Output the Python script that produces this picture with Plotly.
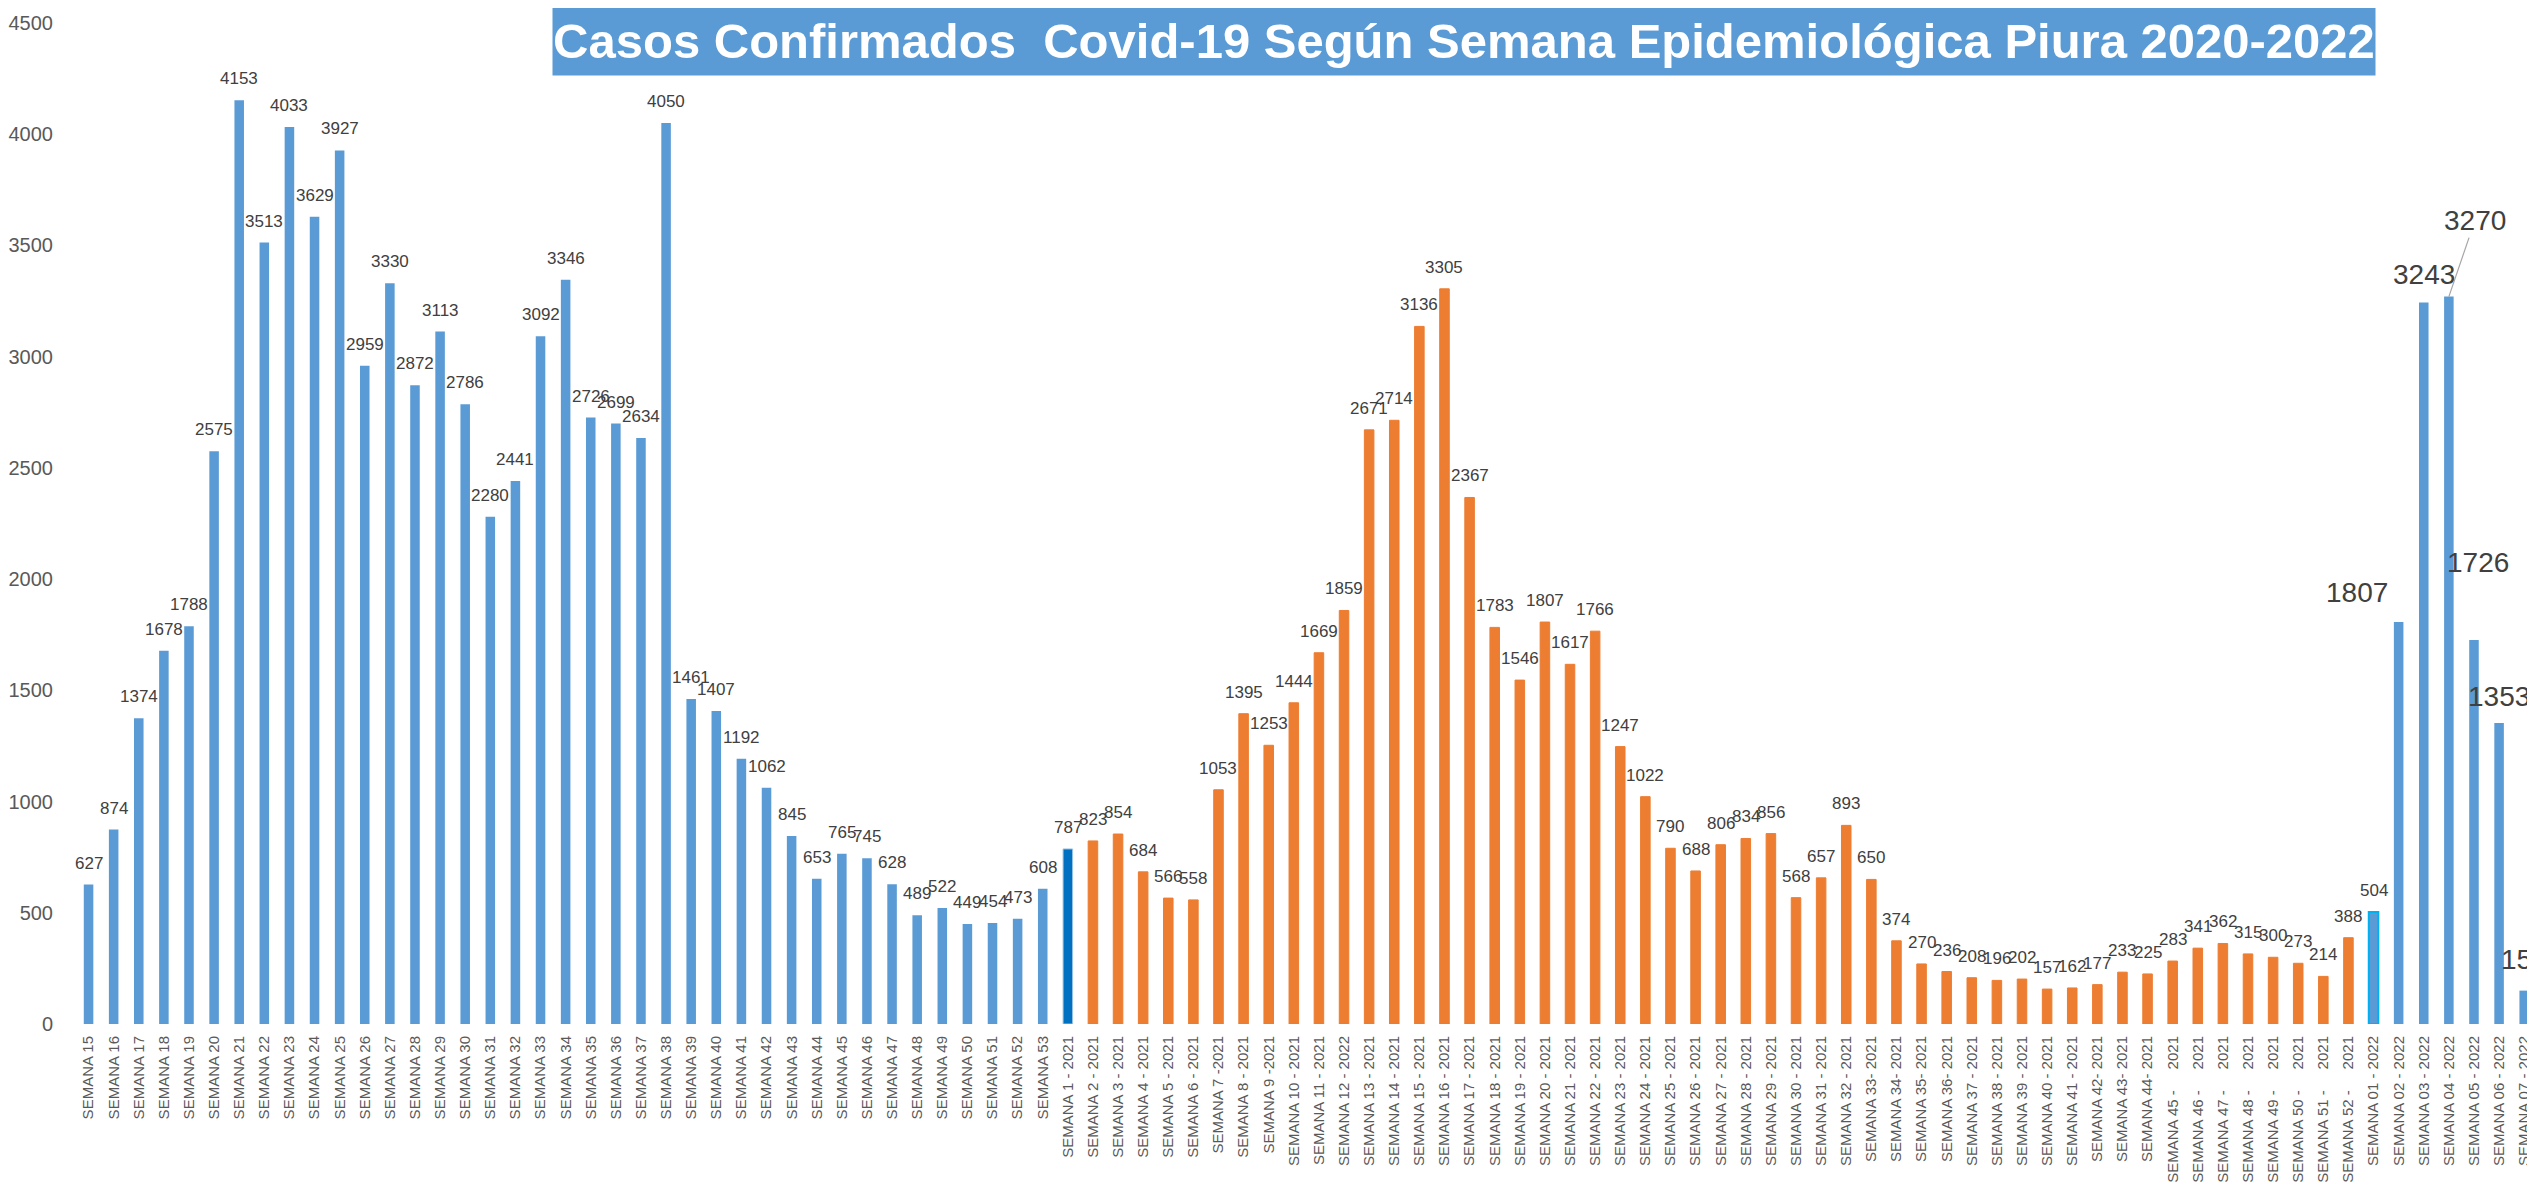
import plotly.graph_objects as go

# ---------------- data ----------------
labels_2020 = [
    "SEMANA 15", "SEMANA 16", "SEMANA 17", "SEMANA 18", "SEMANA 19", "SEMANA 20",
    "SEMANA 21", "SEMANA 22", "SEMANA 23", "SEMANA 24", "SEMANA 25", "SEMANA 26",
    "SEMANA 27", "SEMANA 28", "SEMANA 29", "SEMANA 30", "SEMANA 31", "SEMANA 32",
    "SEMANA 33", "SEMANA 34", "SEMANA 35", "SEMANA 36", "SEMANA 37", "SEMANA 38",
    "SEMANA 39", "SEMANA 40", "SEMANA 41", "SEMANA 42", "SEMANA 43", "SEMANA 44",
    "SEMANA 45", "SEMANA 46", "SEMANA 47", "SEMANA 48", "SEMANA 49", "SEMANA 50",
    "SEMANA 51", "SEMANA 52", "SEMANA 53",
]
values_2020 = [
    627, 874, 1374, 1678, 1788, 2575, 4153, 3513, 4033, 3629, 3927, 2959,
    3330, 2872, 3113, 2786, 2280, 2441, 3092, 3346, 2726, 2699, 2634, 4050,
    1461, 1407, 1192, 1062, 845, 653, 765, 745, 628, 489, 522, 449,
    454, 473, 608,
]

SP = "\u00a0\u00a0\u00a0\u00a0 "
labels_2021 = [
    "SEMANA 1 - 2021", "SEMANA 2 - 2021", "SEMANA 3 - 2021", "SEMANA 4 - 2021",
    "SEMANA 5 - 2021", "SEMANA 6 - 2021", "SEMANA 7 -2021", "SEMANA 8 - 2021",
    "SEMANA 9 -2021", "SEMANA 10 - 2021", "SEMANA 11 - 2021", "SEMANA 12 - 2022",
    "SEMANA 13 - 2021", "SEMANA 14 - 2021", "SEMANA 15 - 2021", "SEMANA 16 - 2021",
    "SEMANA 17 - 2021", "SEMANA 18 - 2021", "SEMANA 19 - 2021", "SEMANA 20 - 2021",
    "SEMANA 21 - 2021", "SEMANA 22 - 2021", "SEMANA 23 - 2021", "SEMANA 24 - 2021",
    "SEMANA 25 - 2021", "SEMANA 26 - 2021", "SEMANA 27 - 2021", "SEMANA 28 - 2021",
    "SEMANA 29 - 2021", "SEMANA 30 - 2021", "SEMANA 31 - 2021", "SEMANA 32 - 2021",
    "SEMANA 33- 2021", "SEMANA 34- 2021", "SEMANA 35- 2021", "SEMANA 36- 2021",
    "SEMANA 37 - 2021", "SEMANA 38 - 2021", "SEMANA 39 - 2021", "SEMANA 40 - 2021",
    "SEMANA 41 - 2021", "SEMANA 42- 2021", "SEMANA 43- 2021", "SEMANA 44- 2021",
    "SEMANA 45 -" + SP + "2021", "SEMANA 46 -" + SP + "2021", "SEMANA 47 -" + SP + "2021",
    "SEMANA 48 -" + SP + "2021", "SEMANA 49 -" + SP + "2021", "SEMANA 50 -" + SP + "2021",
    "SEMANA 51 -" + SP + "2021", "SEMANA 52 -" + SP + "2021",
]
values_2021 = [
    787, 823, 854, 684, 566, 558, 1053, 1395, 1253, 1444, 1669, 1859,
    2671, 2714, 3136, 3305, 2367, 1783, 1546, 1807, 1617, 1766, 1247, 1022,
    790, 688, 806, 834, 856, 568, 657, 893, 650, 374, 270, 236,
    208, 196, 202, 157, 162, 177, 233, 225, 283, 341, 362, 315,
    300, 273, 214, 388,
]

labels_2022 = [
    "SEMANA 01 - 2022", "SEMANA 02 - 2022", "SEMANA 03 - 2022", "SEMANA 04 - 2022",
    "SEMANA 05 - 2022", "SEMANA 06 - 2022", "SEMANA 07 - 2022",
]
values_2022 = [504, 1807, 3243, 3270, 1726, 1353, 150]

title_text = "Casos Confirmados  Covid-19 Según Semana Epidemiológica Piura 2020-2022"

# ---------------- style ----------------
BLUE = "#5B9BD5"
DARK_BLUE = "#0070C0"
ORANGE = "#ED7D31"
CYAN = "#00B0F0"
LABEL_FONT = "Liberation Sans, Arial, sans-serif"
BAR_W = 0.38

fig = go.Figure()

fig.add_trace(go.Bar(
    x=labels_2020, y=values_2020, width=BAR_W,
    marker=dict(color=BLUE, line=dict(width=0)),
    hoverinfo="skip", showlegend=False,
))
fig.add_trace(go.Bar(
    x=labels_2021, y=values_2021, width=BAR_W,
    marker=dict(color=[DARK_BLUE] + [ORANGE] * (len(values_2021) - 1),
                line=dict(color=["#9DC3E6"] + [ORANGE] * (len(values_2021) - 1), width=1)),
    hoverinfo="skip", showlegend=False,
))
fig.add_trace(go.Bar(
    x=labels_2022, y=values_2022, width=BAR_W,
    marker=dict(color=BLUE,
                line=dict(color=[CYAN] + [BLUE] * (len(values_2022) - 1),
                          width=[2] + [0] * (len(values_2022) - 1))),
    hoverinfo="skip", showlegend=False,
))

all_labels = labels_2020 + labels_2021 + labels_2022
n = len(all_labels)

annotations = []
small_font = dict(family=LABEL_FONT, size=17, color="#404040")
big_font = dict(family=LABEL_FONT, size=28, color="#404040")

for lab, val in zip(labels_2020 + labels_2021, values_2020 + values_2021):
    annotations.append(dict(
        x=lab, y=val, xref="x", yref="y", text=str(val), showarrow=False,
        yanchor="bottom", yshift=10, font=small_font,
    ))

# label placement for the 2022 labels (pixel offsets, as in the reference)
big_shift_y = [10, 12, 11, None, 60, 9, 14]
big_shift_x = [0, -42, 0, 0, 4, 0, 0]
for i, (lab, val) in enumerate(zip(labels_2022, values_2022)):
    if i == 0:
        annotations.append(dict(
            x=lab, y=val, xref="x", yref="y", text=str(val), showarrow=False,
            yanchor="bottom", yshift=big_shift_y[i], font=small_font,
        ))
    elif big_shift_y[i] is None:
        annotations.append(dict(
            x=lab, y=val, xref="x", yref="y", text=str(val), showarrow=True,
            arrowhead=0, arrowwidth=1.2, arrowcolor="#A6A6A6", ax=26, ay=-76,
            font=big_font,
        ))
    else:
        annotations.append(dict(
            x=lab, y=val, xref="x", yref="y", text=str(val), showarrow=False,
            yanchor="bottom", yshift=big_shift_y[i], xshift=big_shift_x[i],
            font=big_font,
        ))

# title box
annotations.append(dict(
    x=0.5644, y=0.982, xref="paper", yref="paper", xanchor="center", yanchor="middle",
    text="<b>" + title_text + "</b>", showarrow=False,
    bgcolor=BLUE, width=1822, height=68, borderpad=0, valign="middle", align="center",
    font=dict(family="Liberation Sans, Arial", size=49, color="white"),
))

# the page body adds an 8px offset, so the figure is 8px smaller than the window
fig.update_layout(
    width=2527, height=1180,
    margin=dict(l=68, r=0, t=15, b=164, pad=0, autoexpand=False),
    paper_bgcolor="white", plot_bgcolor="white",
    barmode="overlay",
    annotations=annotations,
    showlegend=False,
)
fig.update_xaxes(
    type="category", categoryorder="array", categoryarray=all_labels,
    range=[-0.5, n - 0.57], automargin=False,
    tickangle=-90, tickfont=dict(family=LABEL_FONT, size=15, color="#595959"),
    showgrid=False, zeroline=False, showline=False, ticks="", ticklabelstandoff=8,
)
fig.update_yaxes(
    range=[0, 4500], dtick=500, tick0=0, automargin=False,
    tickfont=dict(family=LABEL_FONT, size=20, color="#595959"),
    showgrid=False, zeroline=False, showline=False, ticks="", ticklabelstandoff=22,
)

fig.write_html("out.html")
